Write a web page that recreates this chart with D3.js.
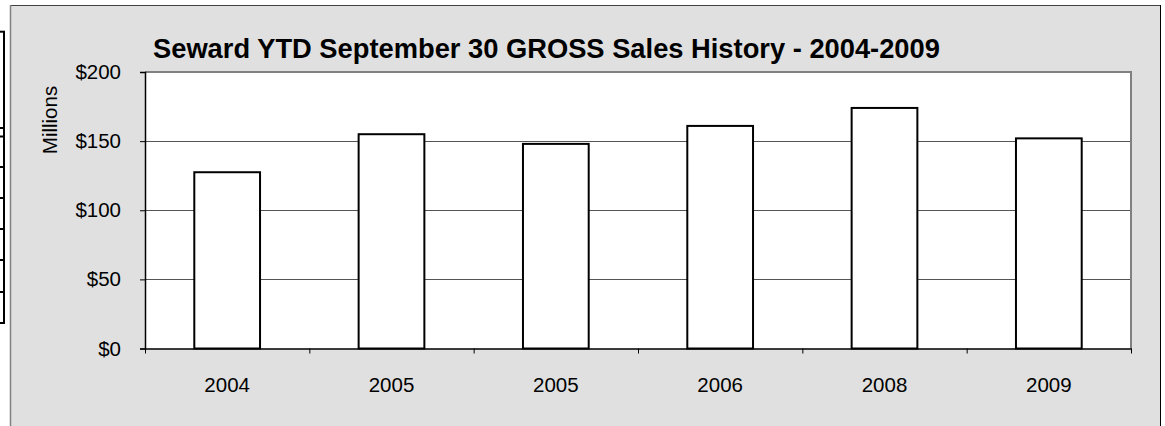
<!DOCTYPE html>
<html>
<head>
<meta charset="utf-8">
<script src="https://cdn.jsdelivr.net/npm/d3@7"></script>
<style>
  html, body { margin: 0; padding: 0; background: #ffffff; }
  svg { display: block; }
  text { font-family: "Liberation Sans", Arial, sans-serif; fill: #000; }
</style>
</head>
<body>
<svg id="chart" width="1165" height="426"></svg>
<script>
// ---- data ----
const title = "Seward YTD September 30 GROSS Sales History - 2004-2009";
const yAxisTitle = "Millions";
const categories = ["2004", "2005", "2005", "2006", "2008", "2009"];
const salesMillions = [127.5, 155, 148, 161, 174, 152];
const yTickValues = [0, 50, 100, 150, 200];
const yTickLabels = ["$0", "$50", "$100", "$150", "$200"];
// row borders of the neighbouring spreadsheet cells seen at the left edge
const cellRowEdges = [31.7, 128, 136.5, 167, 198, 229, 260, 292, 323];

// ---- layout ----
const svg = d3.select("#chart");
const W = 1165, H = 426;
const frame = { x: 10, y: 5, right: 1160 };
const plot = { left: 145, right: 1131, top: 72, bottom: 348.5 };

// spreadsheet cell borders at far left
const cells = svg.append("g");
cells.append("line")
  .attr("x1", 4).attr("x2", 4)
  .attr("y1", d3.min(cellRowEdges)).attr("y2", d3.max(cellRowEdges))
  .attr("stroke", "#000").attr("stroke-width", 2);
cells.selectAll("line.row").data(cellRowEdges).join("line")
  .attr("class", "row")
  .attr("x1", 0).attr("x2", 5)
  .attr("y1", d => d).attr("y2", d => d)
  .attr("stroke", "#000").attr("stroke-width", 2);

// chart frame
svg.append("rect")
  .attr("x", frame.x).attr("y", frame.y)
  .attr("width", frame.right - frame.x).attr("height", H - frame.y + 10)
  .attr("fill", "#e0e0e0");
svg.append("line").attr("x1", frame.x).attr("x2", frame.right)
  .attr("y1", frame.y + 0.5).attr("y2", frame.y + 0.5)
  .attr("stroke", "#404040").attr("stroke-width", 1);
svg.append("line").attr("x1", frame.x + 0.5).attr("x2", frame.x + 0.5)
  .attr("y1", frame.y).attr("y2", H)
  .attr("stroke", "#808080").attr("stroke-width", 1.5);
svg.append("line").attr("x1", frame.right + 0.5).attr("x2", frame.right + 0.5)
  .attr("y1", frame.y).attr("y2", H)
  .attr("stroke", "#000").attr("stroke-width", 1);

// scales
const idx = d3.range(categories.length);
const x = d3.scaleBand().domain(idx).range([plot.left, plot.right])
  .paddingInner(0.6).paddingOuter(0.3);
const xEdges = d3.scaleLinear().domain([0, categories.length]).range([plot.left, plot.right]);
const y = d3.scaleLinear().domain([0, 200]).range([plot.bottom, plot.top]);

// plot area background
svg.append("rect")
  .attr("x", plot.left).attr("y", plot.top)
  .attr("width", plot.right - plot.left).attr("height", plot.bottom - plot.top)
  .attr("fill", "#ffffff");

// gridlines
svg.append("g").selectAll("line")
  .data(yTickValues.filter(v => v > 0 && v < 200))
  .join("line")
  .attr("x1", plot.left).attr("x2", plot.right)
  .attr("y1", d => Math.round(y(d)) + 0.5).attr("y2", d => Math.round(y(d)) + 0.5)
  .attr("stroke", "#555555").attr("stroke-width", 1);

// plot border top/right (gray)
svg.append("path")
  .attr("d", `M${plot.left},${plot.top}H${plot.right}V${plot.bottom}`)
  .attr("fill", "none").attr("stroke", "#808080").attr("stroke-width", 2);

// bars
svg.append("g").selectAll("rect")
  .data(salesMillions)
  .join("rect")
  .attr("x", (d, i) => x(i))
  .attr("y", d => y(d))
  .attr("width", x.bandwidth())
  .attr("height", d => y(0) - y(d))
  .attr("fill", "#ffffff")
  .attr("stroke", "#000").attr("stroke-width", 2);

// y axis
const yAxis = d3.axisLeft(y)
  .tickValues(yTickValues)
  .tickFormat((d, i) => yTickLabels[i])
  .tickSize(5).tickPadding(19);
const gy = svg.append("g").attr("transform", `translate(${plot.left},0)`).call(yAxis);
gy.select(".domain").attr("stroke", "#000").attr("stroke-width", 1.5);
gy.selectAll(".tick line").attr("stroke", "#000");
gy.selectAll("text").style("font-size", "20.5px").attr("font-family", "Liberation Sans, Arial, sans-serif");

// x axis: boundary ticks
const xTickAxis = d3.axisBottom(xEdges)
  .tickValues(d3.range(categories.length + 1))
  .tickFormat("")
  .tickSize(5).tickSizeOuter(0);
const gx = svg.append("g").attr("transform", `translate(0,${plot.bottom})`).call(xTickAxis);
gx.select(".domain").attr("stroke", "#000").attr("stroke-width", 1.5);
gx.selectAll(".tick line").attr("stroke", "#000");

// x axis: labels
const xLabelAxis = d3.axisBottom(x)
  .tickFormat(i => categories[i])
  .tickSize(0).tickPadding(28.5);
const gxl = svg.append("g").attr("transform", `translate(0,${plot.bottom})`).call(xLabelAxis);
gxl.select(".domain").remove();
gxl.selectAll("text").style("font-size", "20.5px").attr("font-family", "Liberation Sans, Arial, sans-serif");

// y axis title
svg.append("text")
  .attr("transform", "translate(56.5,120) rotate(-90)")
  .attr("text-anchor", "middle")
  .style("font-size", "20.5px")
  .text(yAxisTitle);

// title
svg.append("text")
  .attr("x", 153).attr("y", 57.5)
  .style("font-size", "27.3px").style("font-weight", "bold")
  .text(title);
</script>
</body>
</html>
